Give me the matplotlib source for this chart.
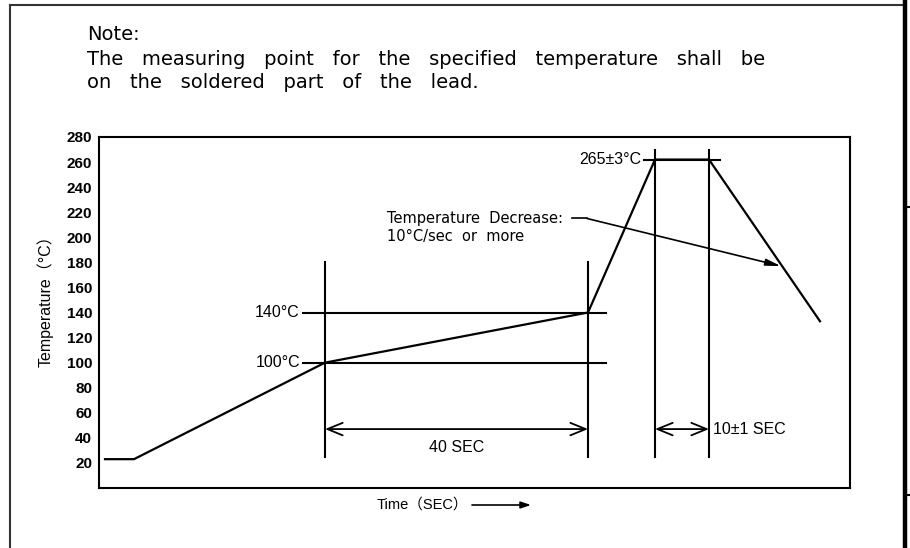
import matplotlib
matplotlib.use("Agg")
import matplotlib.pyplot as plt
from matplotlib.lines import Line2D
from matplotlib.patches import FancyArrowPatch

W, H = 910, 548

# ---- data ----
profile_time = [6, 35, 226, 489, 556, 610, 721]      # schematic time units
profile_temp = [23, 23, 100, 140, 262, 262, 133]    # deg C
yticks = [20, 40, 60, 80, 100, 120, 140, 160, 180, 200, 220, 240, 260, 280]
soak_start, soak_end = 226, 489
peak_start, peak_end = 556, 610
soak_lo, soak_hi, peak_temp = 100, 140, 262
note_lines = ["Note:",
              "The measuring point for the specified temperature shall be",
              "on the soldered part of the lead."]

SANS = ["Liberation Sans", "Noto Sans CJK SC", "DejaVu Sans"]
CAD = ["DejaVu Sans"]

fig = plt.figure(figsize=(W / 100, H / 100), dpi=100)

def fx(x):
    return x / W

def fy(y):
    return 1 - y / H

ax = fig.add_axes([fx(99), fy(488), (850 - 99) / W, (488 - 137) / H])
ax.set_xlim(0, 751)
ax.set_ylim(0, 280)
ax.set_xticks([])
ax.set_yticks(yticks)
ax.set_yticklabels([str(v) for v in yticks], family=SANS, fontsize=11, fontweight="bold")
ax.tick_params(axis="y", length=0, pad=5)
for s in ax.spines.values():
    s.set_linewidth(1.5)

lw = 1.5
# profile
ax.plot(profile_time, profile_temp, color="black", lw=1.6, solid_joinstyle="miter")

# soak verticals
for t in (soak_start, soak_end):
    ax.plot([t, t], [25, 180], color="black", lw=lw)
# soak horizontals
for v in (soak_lo, soak_hi):
    ax.plot([204, 507], [v, v], color="black", lw=lw)
# peak verticals
for t in (peak_start, peak_end):
    ax.plot([t, t], [25, 270], color="black", lw=lw)
ax.plot([545, 621], [peak_temp, peak_temp], color="black", lw=lw)

# double arrows
arr = dict(arrowstyle="<->,head_length=1.1,head_width=0.45", color="black", lw=1.3,
           shrinkA=0, shrinkB=0)
ax.annotate("", xy=(soak_end, 47), xytext=(soak_start, 47), arrowprops=arr)
ax.annotate("", xy=(peak_end, 47), xytext=(peak_start, 47), arrowprops=arr)

ax.text((soak_start + soak_end) / 2, 32.5, "40 SEC", family=SANS, fontsize=11.5,
        ha="center", va="center")
ax.text(614, 47, "10±1 SEC", family=SANS, fontsize=11.5, ha="left", va="center")
ax.text(201, soak_hi, "140°C", family=SANS, fontsize=11.5, ha="right", va="center")
ax.text(201, soak_lo, "100°C", family=SANS, fontsize=11.5, ha="right", va="center")
ax.text(542, peak_temp, "265±3°C", family=SANS, fontsize=11.5, ha="right", va="center")

ax.text(288, 215, "Temperature  Decrease:", family=CAD, fontsize=10.5, ha="left", va="center")
ax.text(288, 200.5, "10°C/sec  or  more", family=CAD, fontsize=10.5, ha="left", va="center")
ax.plot([473, 488], [215, 215], color="black", lw=1.2)
ax.annotate("", xy=(682, 177), xytext=(488, 215),
            arrowprops=dict(arrowstyle="-|>,head_length=0.9,head_width=0.2", color="black",
                            lw=1.2, shrinkA=0, shrinkB=0))

ax.set_ylabel("Temperature（°C）", family=SANS, fontsize=11.5)
ax.yaxis.set_label_coords((54 - 99) / 751, (488 - 297) / 351)

# x label with arrow
fig.text(fx(377), fy(505), "Time（SEC）", family=SANS, fontsize=10.5, ha="left", va="center")
fig.add_artist(FancyArrowPatch(
    (fx(472), fy(505)), (fx(531), fy(505)), transform=fig.transFigure,
    arrowstyle="-|>,head_length=6,head_width=2", color="black", lw=1.2,
    shrinkA=0, shrinkB=0))

# note
for txt, yb in zip(note_lines, [40, 65, 88]):
    fig.text(fx(87), fy(yb), txt.replace(" ", "   "), family=CAD, fontsize=14,
             ha="left", va="baseline")

# page frame
fig.add_artist(Line2D([fx(10), fx(903)], [fy(5), fy(5)], color="#333333", lw=1.5))
fig.add_artist(Line2D([fx(10), fx(10)], [fy(5), fy(548)], color="#333333", lw=1.5))
fig.add_artist(Line2D([fx(904.5), fx(904.5)], [fy(0), fy(548)], color="black", lw=3.2))
for yy in (207, 495):
    fig.add_artist(Line2D([fx(905), fx(910)], [fy(yy), fy(yy)], color="black", lw=1.5))

fig.savefig("out.png", dpi=100)
